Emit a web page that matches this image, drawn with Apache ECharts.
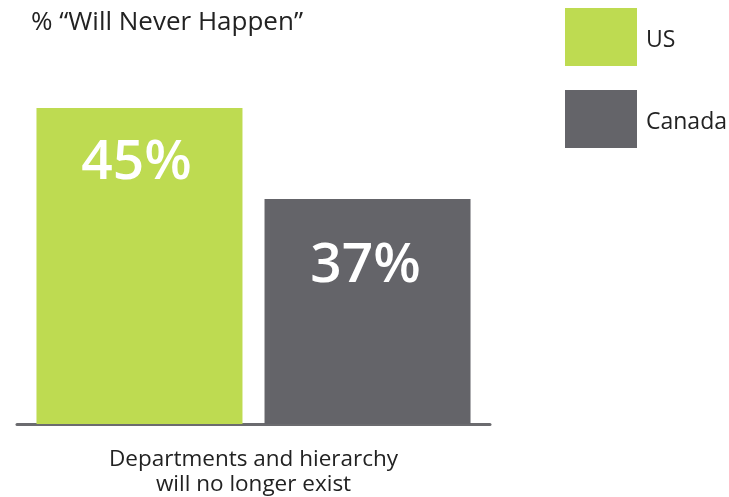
<!DOCTYPE html>
<html>
<head>
<meta charset="utf-8">
<script src="https://cdn.jsdelivr.net/npm/echarts@6/dist/echarts.min.js"></script>
<style>
  html, body { margin: 0; padding: 0; background: #ffffff; }
  #chart { width: 729px; height: 497px; }
</style>
</head>
<body>
<div id="chart"></div>
<script>
// Share of respondents saying the change "will never happen"
const categories = ['Departments and hierarchy\nwill no longer exist'];
const seriesNames = ['US', 'Canada'];
const usValues = [45];
const canadaValues = [37];

const FONT = '"Open Sans", "Noto Sans", sans-serif';
const GREEN = '#bedb51';
const GREY = '#646469';

const chart = echarts.init(document.getElementById('chart'), null, { renderer: 'canvas' });

function valueLabel(offsetY, shiftX) {
  return {
    show: true,
    position: 'insideTop',
    distance: offsetY,
    offset: [shiftX, 0],
    formatter: '{c}%',
    color: '#ffffff',
    fontFamily: FONT,
    fontSize: 55,
    fontWeight: 600
  };
}

chart.setOption({
  animation: false,
  title: {
    text: '% \u201CWill Never Happen\u201D',
    left: 31,
    top: 10,
    padding: 0,
    textStyle: { fontFamily: FONT, fontSize: 26, fontWeight: 'normal', color: '#222222' }
  },
  legend: {
    orient: 'vertical',
    left: 565,
    top: 8,
    padding: 0,
    itemWidth: 72,
    itemHeight: 58,
    itemGap: 24,
    icon: 'rect',
    data: seriesNames,
    formatter: name => '{t|' + name + '}',
    textStyle: {
      fontFamily: FONT,
      fontSize: 23,
      color: '#222222',
      rich: {
        t: { fontFamily: FONT, fontSize: 23, color: '#222222', padding: [6, 0, 0, 4] }
      }
    }
  },
  grid: { left: 17, right: 239, top: 108, bottom: 73, containLabel: false },
  xAxis: {
    type: 'category',
    data: categories,
    axisLine: { show: true, lineStyle: { color: '#6b6b6f', width: 3 } },
    axisTick: { show: false },
    axisLabel: {
      fontFamily: FONT,
      fontSize: 22.5,
      lineHeight: 25,
      color: '#222222',
      margin: 23
    }
  },
  yAxis: {
    type: 'value',
    min: 17.2,
    max: 45,
    show: false,
    splitLine: { show: false }
  },
  series: [
    {
      name: seriesNames[0],
      type: 'bar',
      barWidth: 206,
      barGap: '10.7%',
      itemStyle: { color: GREEN },
      data: usValues.map(v => ({ value: v, label: valueLabel(28, -3) }))
    },
    {
      name: seriesNames[1],
      type: 'bar',
      barWidth: 206,
      itemStyle: { color: GREY },
      data: canadaValues.map(v => ({ value: v, label: valueLabel(40, -2) }))
    }
  ]
});
</script>
</body>
</html>
